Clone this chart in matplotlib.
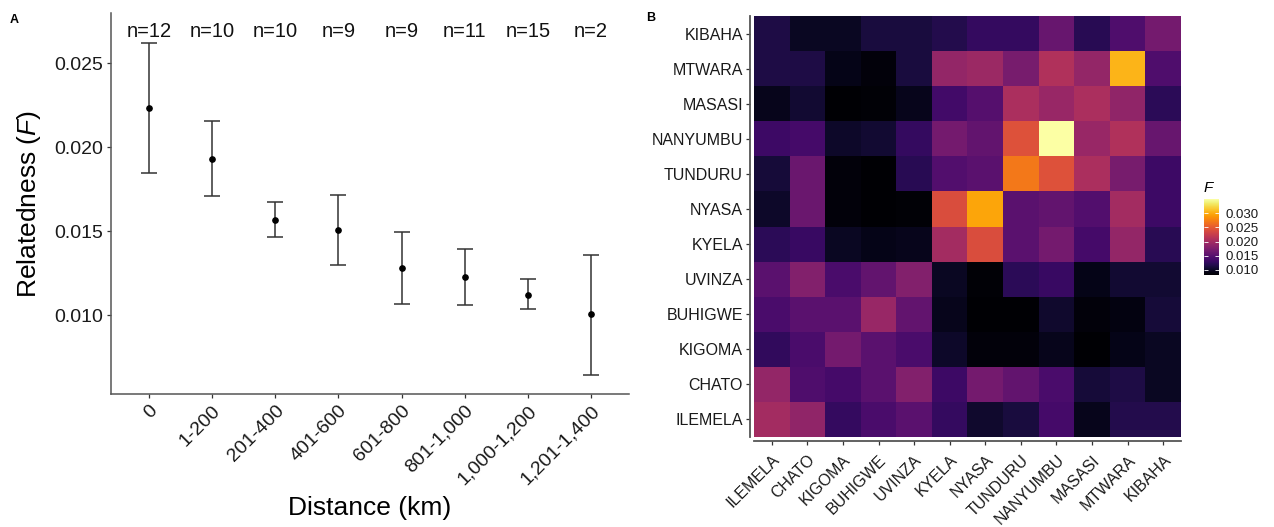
import matplotlib
matplotlib.use('Agg')
import matplotlib.pyplot as plt
import numpy as np

plt.rcParams['font.family'] = ['Liberation Sans', 'DejaVu Sans']
plt.rcParams['mathtext.fontset'] = 'custom'
plt.rcParams['mathtext.rm'] = 'Liberation Sans'
plt.rcParams['mathtext.it'] = 'Liberation Sans:italic'

# panel A: relatedness by distance class
klases = ['0', '1-200', '201-400', '401-600', '601-800', '801-1,000', '1,000-1,200', '1,201-1,400']
n_skaits = [12, 10, 10, 9, 9, 11, 15, 2]
vidējais = [0.02233, 0.01932, 0.01568, 0.01510, 0.01282, 0.01228, 0.01121, 0.01005]
augša = [0.02621, 0.02155, 0.01675, 0.01718, 0.01495, 0.01393, 0.01214, 0.01359]
apakša = [0.01845, 0.01711, 0.01466, 0.01301, 0.01068, 0.01063, 0.01034, 0.00646]

# panel B: pairwise relatedness between populations
populācijas = ['ILEMELA', 'CHATO', 'KIGOMA', 'BUHIGWE', 'UVINZA', 'KYELA',
               'NYASA', 'TUNDURU', 'NANYUMBU', 'MASASI', 'MTWARA', 'KIBAHA']
# rows from top (KIBAHA) to bottom (ILEMELA), columns ILEMELA..KIBAHA
F_kibaha = [0.0114, 0.0098, 0.0098, 0.0111, 0.0111, 0.0117, 0.0128, 0.0128, 0.0160, 0.0120, 0.0144, 0.0168]
F_mtwara = [0.0114, 0.0114, 0.0093, 0.0087, 0.0111, 0.0189, 0.0195, 0.0170, 0.0208, 0.0189, 0.0304, 0.0144]
F_masasi = [0.0095, 0.0106, 0.0082, 0.0085, 0.0095, 0.0136, 0.0149, 0.0205, 0.0192, 0.0205, 0.0187, 0.0122]
F_nanyumbu = [0.0133, 0.0138, 0.0101, 0.0106, 0.0128, 0.0168, 0.0157, 0.0243, 0.0350, 0.0192, 0.0208, 0.0160]
F_tunduru = [0.0109, 0.0162, 0.0087, 0.0082, 0.0120, 0.0146, 0.0152, 0.0270, 0.0243, 0.0205, 0.0170, 0.0133]
F_nyasa = [0.0101, 0.0162, 0.0087, 0.0082, 0.0085, 0.0240, 0.0296, 0.0152, 0.0157, 0.0146, 0.0200, 0.0133]
F_kyela = [0.0122, 0.0130, 0.0098, 0.0093, 0.0095, 0.0200, 0.0240, 0.0152, 0.0168, 0.0138, 0.0189, 0.0120]
F_uvinza = [0.0152, 0.0178, 0.0141, 0.0157, 0.0178, 0.0098, 0.0085, 0.0122, 0.0130, 0.0093, 0.0106, 0.0106]
F_buhigwe = [0.0141, 0.0152, 0.0152, 0.0192, 0.0157, 0.0095, 0.0082, 0.0082, 0.0103, 0.0087, 0.0090, 0.0109]
F_kigoma = [0.0125, 0.0141, 0.0168, 0.0152, 0.0141, 0.0101, 0.0087, 0.0087, 0.0095, 0.0082, 0.0093, 0.0098]
F_chato = [0.0189, 0.0144, 0.0138, 0.0152, 0.0178, 0.0133, 0.0168, 0.0157, 0.0141, 0.0109, 0.0114, 0.0098]
F_ilemela = [0.0200, 0.0187, 0.0128, 0.0141, 0.0152, 0.0128, 0.0103, 0.0111, 0.0138, 0.0095, 0.0117, 0.0117]

W, H = 1274, 527
fig = plt.figure(figsize=(W / 100, H / 100), dpi=100)

def px_ax(x0, y0, x1, y1):
    return fig.add_axes([x0 / W, 1 - y1 / H, (x1 - x0) / W, (y1 - y0) / H])

pelēks = '#333333'

# ---- A ----
ax = px_ax(111, 13, 629, 394)
x = np.arange(len(klases))
vid = np.array(vidējais)
ax.errorbar(x, vid, yerr=[vid - np.array(apakša), np.array(augša) - vid],
            fmt='o', color='black', ms=3.8, ecolor=pelēks, elinewidth=1.1,
            capsize=6, capthick=1.1)
for xi, n in zip(x, n_skaits):
    ax.text(xi, 0.02687, f'n={n}', ha='center', va='center', fontsize=14.5, color='#111111')
ax.set_xlim(-0.6, len(klases) - 0.4)
ax.set_ylim(0.0053, 0.0280)
for s in ['top', 'right']:
    ax.spines[s].set_visible(False)
for s in ['left', 'bottom']:
    ax.spines[s].set_color('#555555')
    ax.spines[s].set_linewidth(1.1)
ax.set_xticks(x)
ax.set_xticklabels(klases, rotation=45, ha='right', rotation_mode='anchor')
ax.set_yticks([0.010, 0.015, 0.020, 0.025])
ax.set_yticklabels(['0.010', '0.015', '0.020', '0.025'])
ax.tick_params(labelsize=14, length=3, width=0.9, color=pelēks, labelcolor='#1a1a1a', pad=3)
ax.set_xlabel('Distance (km)', fontsize=19, labelpad=6)
ax.set_ylabel('Relatedness ($\\mathit{F}$)', fontsize=19, labelpad=8)
fig.text(14 / W, 1 - 20 / H, 'A', fontsize=9, fontweight='bold', ha='center', va='center')

# ---- B ----
matrica = np.array([F_kibaha, F_mtwara, F_masasi, F_nanyumbu, F_tunduru, F_nyasa,
                    F_kyela, F_uvinza, F_buhigwe, F_kigoma, F_chato, F_ilemela])[::-1]
bx = px_ax(754, 16, 1181, 437)
for s in ['top', 'right']:
    bx.spines[s].set_visible(False)
for s in ['left', 'bottom']:
    bx.spines[s].set_position(('outward', 3))
    bx.spines[s].set_color('#555555')
    bx.spines[s].set_linewidth(1.3)
mesh = bx.pcolormesh(np.arange(13) - 0.5, np.arange(13) - 0.5, matrica,
                     cmap='inferno', vmin=0.0082, vmax=0.035)
bx.set_xlim(-0.5, 11.5)
bx.set_ylim(-0.5, 11.5)
bx.set_xticks(np.arange(12))
bx.set_yticks(np.arange(12))
bx.set_xticklabels(populācijas, rotation=45, ha='right', rotation_mode='anchor')
bx.set_yticklabels(populācijas)
bx.tick_params(labelsize=11.5, length=3, width=0.9, color=pelēks, labelcolor='#1a1a1a', pad=2)
bx.tick_params(axis='x', pad=5)
fig.text(651 / W, 1 - 18 / H, 'B', fontsize=9, fontweight='bold', ha='center', va='center')

cax = px_ax(1204, 199, 1219, 275)
cb = fig.colorbar(mesh, cax=cax, ticks=[0.010, 0.015, 0.020, 0.025, 0.030])
cb.outline.set_visible(False)
cb.ax.set_yticklabels(['0.010', '0.015', '0.020', '0.025', '0.030'])
cax.tick_params(axis='y', direction='in', left=True, right=True, length=3, width=0.6,
                color='white', labelsize=9.5, labelcolor='#1a1a1a', pad=5)
cax.set_title('F', fontsize=11, style='italic', loc='left', pad=5)

plt.savefig('out.png', dpi=100)
